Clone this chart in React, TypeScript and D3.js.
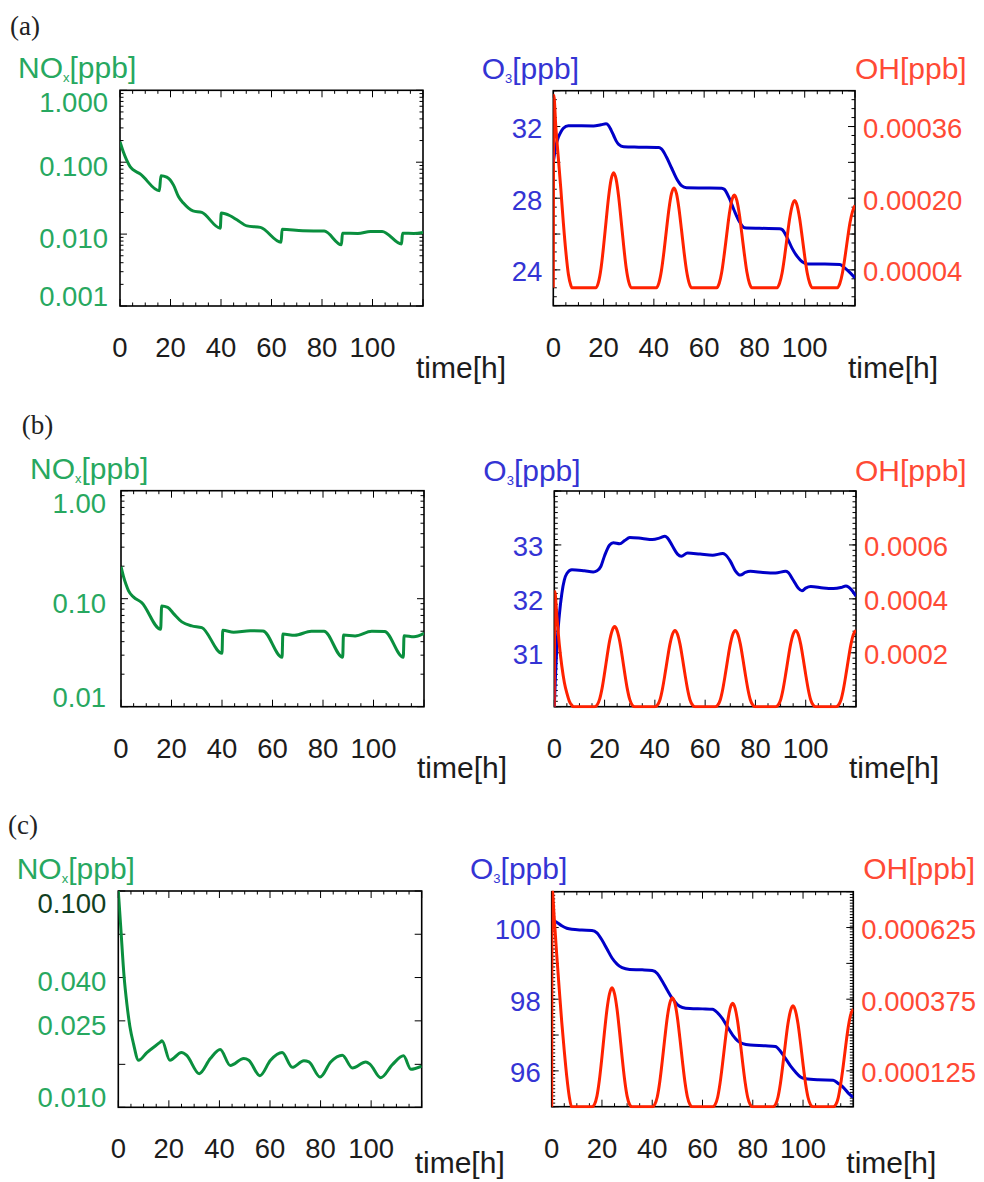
import React from 'react';
import * as d3 from 'd3';

type Pt = [number, number];

// ---- data: [time in h, value] ----
const timeTicks = [0, 20, 40, 60, 80, 100];

const noxA: Pt[] = [
  [0, 0.193], [1.3, 0.14], [2.6, 0.108], [4, 0.087], [5.3, 0.078], [7.9, 0.069], [15.6, 0.04],
  [16.2, 0.065], [18.5, 0.062], [21.2, 0.048], [23.2, 0.033], [25.1, 0.027], [28.9, 0.021],
  [32.4, 0.02], [39.7, 0.0121], [40.1, 0.0196], [43.6, 0.018], [46.3, 0.0158], [50.3, 0.013],
  [55.6, 0.0124], [63.8, 0.0077], [64.2, 0.0117], [72.4, 0.0111], [80.9, 0.011], [87.7, 0.0071],
  [88.1, 0.0103], [94.2, 0.0102], [99.2, 0.0109], [103.8, 0.0109], [111.5, 0.0073],
  [111.9, 0.0103], [116.4, 0.0102], [120, 0.0105],
];

const noxB: Pt[] = [
  [0, 0.198], [1, 0.16], [2, 0.135], [3, 0.118], [4.9, 0.104], [8.2, 0.092], [15.7, 0.052],
  [16.1, 0.0855], [18.5, 0.083], [21, 0.072], [24.1, 0.061], [28, 0.056], [32, 0.054],
  [40, 0.0312], [40.3, 0.051], [44.6, 0.049], [51.2, 0.0506], [56.2, 0.0503], [63.8, 0.0287],
  [64.1, 0.047], [68.8, 0.0458], [75.4, 0.05], [80.4, 0.05], [87.8, 0.0287], [88.1, 0.046],
  [92.7, 0.0452], [99.3, 0.05], [104.4, 0.0497], [111.8, 0.0287], [112.1, 0.0455],
  [116, 0.0445], [120, 0.0478],
];

const noxC: Pt[] = [
  [0, 0.1], [0.95, 0.0684], [2.3, 0.0401], [3.4, 0.03], [4.6, 0.0236], [6, 0.0197], [8, 0.0165],
  [11.3, 0.0179], [16.6, 0.02], [17.3, 0.0203], [20.4, 0.0165], [25, 0.0179], [27, 0.0174],
  [32, 0.0143], [36.4, 0.0168], [40.3, 0.0185], [44.3, 0.0156], [49.6, 0.0168], [51.6, 0.0165],
  [56, 0.014], [60.2, 0.0165], [64.8, 0.0179], [68.8, 0.0153], [73.4, 0.0164], [75.4, 0.0162],
  [79.8, 0.0138], [84, 0.0162], [88.6, 0.0174], [92.6, 0.0152], [97.9, 0.0162], [99.6, 0.0158],
  [103.8, 0.0137], [108.5, 0.0158], [112.8, 0.0173], [115.7, 0.015], [120, 0.0155],
];

const o3A: Pt[] = [
  [0, 30.0], [1, 30.9], [2, 31.4], [3, 31.7], [4, 31.9], [6, 32.05], [10, 32.04], [16, 32.03],
  [19, 32.1], [21, 32.15], [22, 32.05], [23, 31.8], [24, 31.5], [25, 31.2], [26, 31.0],
  [28, 30.87], [34, 30.85], [42, 30.83], [43, 30.75], [45, 30.3], [47, 29.7], [49, 29.1],
  [51, 28.7], [53, 28.58], [60, 28.57], [67, 28.56], [68, 28.5], [70, 28.0], [72, 27.3],
  [74, 26.7], [76, 26.35], [82, 26.32], [90, 26.3], [91, 26.25], [93, 25.8], [95, 25.2],
  [97, 24.75], [99, 24.45], [101, 24.33], [108, 24.33], [114, 24.3], [116, 24.1], [118, 23.85],
  [120, 23.55],
];

const o3B: Pt[] = [
  [0, 30.0], [0.5, 30.6], [1, 31.1], [2, 31.7], [3, 32.1], [4, 32.35], [5, 32.47], [7, 32.54],
  [12, 32.52], [15.5, 32.5], [17, 32.52], [18.5, 32.6], [20, 32.8], [22, 33.0], [23.5, 33.04],
  [26, 33.02], [28, 33.08], [30, 33.14], [35, 33.12], [39, 33.1], [42, 33.13], [44, 33.16],
  [45, 33.13], [47, 32.98], [49, 32.83], [50.5, 32.79], [53, 32.85], [58, 32.83], [63, 32.81],
  [67, 32.84], [68, 32.82], [70, 32.7], [72, 32.52], [74, 32.44], [76, 32.49], [78, 32.51],
  [83, 32.49], [88, 32.48], [92, 32.51], [93, 32.49], [95, 32.35], [97, 32.2], [98.5, 32.15],
  [100, 32.2], [102, 32.23], [107, 32.2], [111, 32.19], [114, 32.21], [116, 32.24],
  [117, 32.22], [118.5, 32.15], [120, 32.05],
];

const o3C: Pt[] = [
  [0, 100.22], [2, 100.15], [4, 100.05], [6, 99.98], [8, 99.95], [12, 99.93], [16, 99.92],
  [18, 99.85], [20, 99.65], [22, 99.4], [24, 99.15], [26, 98.98], [28, 98.88], [31, 98.83],
  [36, 98.82], [40, 98.8], [42, 98.72], [44, 98.5], [46, 98.25], [48, 98.02], [50, 97.85],
  [52, 97.77], [55, 97.74], [60, 97.73], [64, 97.72], [66, 97.62], [68, 97.45], [70, 97.22],
  [72, 97.0], [74, 96.84], [76, 96.76], [79, 96.72], [85, 96.7], [89, 96.68], [91, 96.55],
  [93, 96.35], [95, 96.14], [97, 95.97], [99, 95.83], [101, 95.78], [106, 95.75], [112, 95.74],
  [114, 95.65], [116, 95.54], [118, 95.38], [120, 95.26],
];

const ohA: Pt[] = [
  [0, 0], [0.2, 4.3e-4], [1, 3.6e-4], [2, 2.9e-4], [3, 2.2e-4], [4, 1.45e-4], [5, 8e-5],
  [6, 3e-5], [7, 5e-6], [7.4, 0], [17, 0],
  [18, 1.3e-5], [19, 4.4e-5], [20, 9.3e-5], [21, 1.49e-4], [22, 2.03e-4], [23, 2.42e-4],
  [24, 2.57e-4], [25, 2.42e-4], [26, 2.03e-4], [27, 1.49e-4], [28, 9.3e-5], [29, 4.4e-5],
  [30, 1.3e-5], [31, 0], [41, 0],
  [42, 1.1e-5], [43, 3.8e-5], [44, 8e-5], [45, 1.29e-4], [46, 1.76e-4], [47, 2.1e-4],
  [48, 2.23e-4], [49, 2.1e-4], [50, 1.76e-4], [51, 1.29e-4], [52, 8e-5], [53, 3.8e-5],
  [54, 1.1e-5], [55, 0], [65, 0],
  [66, 1e-5], [67, 3.5e-5], [68, 7.5e-5], [69, 1.2e-4], [70, 1.64e-4], [71, 1.95e-4],
  [72, 2.07e-4], [73, 1.95e-4], [74, 1.64e-4], [75, 1.2e-4], [76, 7.5e-5], [77, 3.5e-5],
  [78, 1e-5], [79, 0], [89, 0],
  [90, 1e-5], [91, 3.3e-5], [92, 7e-5], [93, 1.13e-4], [94, 1.54e-4], [95, 1.83e-4],
  [96, 1.95e-4], [97, 1.83e-4], [98, 1.54e-4], [99, 1.13e-4], [100, 7e-5], [101, 3.3e-5],
  [102, 1e-5], [103, 0], [113, 0],
  [114, 1e-5], [115, 3.3e-5], [116, 6.8e-5], [117, 1.08e-4], [118, 1.45e-4], [119, 1.7e-4],
  [120, 1.84e-4],
];

const ohB: Pt[] = [
  [0, 0], [0.2, 4.27e-4], [1, 3.4e-4], [2, 2.3e-4], [3, 1.5e-4], [4, 9e-5], [5, 5e-5],
  [6, 2e-5], [7, 5e-6], [7.6, 0], [16, 0],
  [17, 6e-6], [18, 2.7e-5], [19, 6.8e-5], [20, 1.25e-4], [21, 1.87e-4], [22, 2.44e-4],
  [23, 2.82e-4], [24, 2.97e-4], [25, 2.82e-4], [26, 2.44e-4], [27, 1.87e-4], [28, 1.25e-4],
  [29, 6.8e-5], [30, 2.7e-5], [31, 6e-6], [32, 0], [40, 0],
  [41, 6e-6], [42, 2.5e-5], [43, 6.5e-5], [44, 1.19e-4], [45, 1.78e-4], [46, 2.32e-4],
  [47, 2.69e-4], [48, 2.83e-4], [49, 2.69e-4], [50, 2.32e-4], [51, 1.78e-4], [52, 1.19e-4],
  [53, 6.5e-5], [54, 2.5e-5], [55, 6e-6], [56, 0], [64, 0],
  [65, 6e-6], [66, 2.5e-5], [67, 6.5e-5], [68, 1.19e-4], [69, 1.78e-4], [70, 2.32e-4],
  [71, 2.69e-4], [72, 2.83e-4], [73, 2.69e-4], [74, 2.32e-4], [75, 1.78e-4], [76, 1.19e-4],
  [77, 6.5e-5], [78, 2.5e-5], [79, 6e-6], [80, 0], [88, 0],
  [89, 6e-6], [90, 2.5e-5], [91, 6.5e-5], [92, 1.19e-4], [93, 1.78e-4], [94, 2.32e-4],
  [95, 2.69e-4], [96, 2.83e-4], [97, 2.69e-4], [98, 2.32e-4], [99, 1.78e-4], [100, 1.19e-4],
  [101, 6.5e-5], [102, 2.5e-5], [103, 6e-6], [104, 0], [112, 0],
  [113, 6e-6], [114, 2.5e-5], [115, 6.5e-5], [116, 1.19e-4], [117, 1.78e-4], [118, 2.32e-4],
  [119, 2.69e-4], [120, 2.83e-4],
];

const ohC: Pt[] = [
  [0, 0], [0.15, 7.6e-4], [1, 6.6e-4], [2, 5.3e-4], [3, 4.1e-4], [4, 2.95e-4], [5, 1.95e-4],
  [6, 1.05e-4], [7, 3.5e-5], [7.9, 0], [16, 0],
  [17, 8e-6], [18, 3.7e-5], [19, 9.5e-5], [20, 1.74e-4], [21, 2.61e-4], [22, 3.4e-4],
  [23, 3.94e-4], [24, 4.15e-4], [25, 3.94e-4], [26, 3.4e-4], [27, 2.61e-4], [28, 1.74e-4],
  [29, 9.5e-5], [30, 3.7e-5], [31, 8e-6], [32, 0], [40, 0],
  [41, 8e-6], [42, 3.4e-5], [43, 8.7e-5], [44, 1.6e-4], [45, 2.39e-4], [46, 3.12e-4],
  [47, 3.61e-4], [48, 3.8e-4], [49, 3.61e-4], [50, 3.12e-4], [51, 2.39e-4], [52, 1.6e-4],
  [53, 8.7e-5], [54, 3.4e-5], [55, 8e-6], [56, 0], [64, 0],
  [65, 7e-6], [66, 3.2e-5], [67, 8.3e-5], [68, 1.52e-4], [69, 2.27e-4], [70, 2.96e-4],
  [71, 3.43e-4], [72, 3.61e-4], [73, 3.43e-4], [74, 2.96e-4], [75, 2.27e-4], [76, 1.52e-4],
  [77, 8.3e-5], [78, 3.2e-5], [79, 7e-6], [80, 0], [88, 0],
  [89, 7e-6], [90, 3.2e-5], [91, 8.1e-5], [92, 1.48e-4], [93, 2.22e-4], [94, 2.89e-4],
  [95, 3.34e-4], [96, 3.52e-4], [97, 3.34e-4], [98, 2.89e-4], [99, 2.22e-4], [100, 1.48e-4],
  [101, 8.1e-5], [102, 3.2e-5], [103, 7e-6], [104, 0], [112, 0],
  [113, 7e-6], [114, 3.1e-5], [115, 8e-5], [116, 1.43e-4], [117, 2.14e-4], [118, 2.78e-4],
  [119, 3.22e-4], [120, 3.4e-4],
];

// tick labels
const noxLabelsA = [[1, '1.000'], [0.1, '0.100'], [0.01, '0.010'], [0.001, '0.001']];
const noxLabelsB = [[1, '1.00'], [0.1, '0.10'], [0.01, '0.01']];
const noxLabelsC = [[0.1, '0.100'], [0.0398, '0.040'], [0.0251, '0.025'], [0.01, '0.010']];
const noxTicksC = [0.1, 0.0631, 0.0398, 0.0251, 0.0158, 0.01];
const o3LabelsA = [[32, '32'], [28, '28'], [24, '24']];
const o3LabelsB = [[33, '33'], [32, '32'], [31, '31']];
const o3LabelsC = [[100, '100'], [98, '98'], [96, '96']];
const ohLabelsA = [[0.00036, '0.00036'], [0.0002, '0.00020'], [0.00004, '0.00004']];
const ohLabelsB = [[0.0006, '0.0006'], [0.0004, '0.0004'], [0.0002, '0.0002']];
const ohLabelsC = [[0.000625, '0.000625'], [0.000375, '0.000375'], [0.000125, '0.000125']];

const SANS = "'Liberation Sans', Arial, Helvetica, sans-serif";
const SERIF = "'Liberation Serif', 'Times New Roman', serif";
const GREEN = '#0a8f3e';
const GREEN_TXT = '#27a860';
const BLUE = '#0000c8';
const BLUE_TXT = '#3434d4';
const RED = '#ff2200';
const RED_TXT = '#ff4a35';
const DARK = '#1c1c1c';
const NUM = 27.5;
const TITLE = 30;

type Box = { x0: number; x1: number; y0: number; y1: number };

const logMinor = (lo: number, hi: number) => {
  const out: number[] = [];
  for (let d = lo; d < hi * 0.999; d *= 10) for (let m = 2; m <= 9; m++) out.push(d * m);
  return out;
};
const stepTicks = (lo: number, hi: number, step: number) =>
  d3.range(Math.round((hi - lo) / step) + 1).map((i) => lo + i * step);

const TimeAxis = ({ box, titleOff }: { box: Box; titleOff: number }) => {
  const x = d3.scaleLinear().domain([0, 120]).range([box.x0, box.x1]);
  const major = stepTicks(0, 120, 20);
  const minor = stepTicks(0, 120, 5).filter((t) => t % 20 !== 0);
  return (
    <g>
      {major.map((t) => (
        <g key={'M' + t} stroke="#000" strokeWidth={1}>
          <line x1={x(t)} x2={x(t)} y1={box.y1} y2={box.y1 - 7} />
          <line x1={x(t)} x2={x(t)} y1={box.y0} y2={box.y0 + 7} />
        </g>
      ))}
      {minor.map((t) => (
        <g key={'m' + t} stroke="#000" strokeWidth={1}>
          <line x1={x(t)} x2={x(t)} y1={box.y1} y2={box.y1 - 3.5} />
          <line x1={x(t)} x2={x(t)} y1={box.y0} y2={box.y0 + 3.5} />
        </g>
      ))}
      {timeTicks.map((t) => (
        <text key={'l' + t} x={x(t)} y={box.y1 + 51} textAnchor="middle" fontSize={NUM} fill={DARK} fontFamily={SANS}>
          {t}
        </text>
      ))}
      <text x={box.x1 - 7} y={box.y1 + titleOff} fontSize={TITLE} fill={DARK} fontFamily={SANS}>
        time[h]
      </text>
    </g>
  );
};

const yTicks = (y: (v: number) => number, vals: number[], xEdge: number, dir: number, len: number, k: string) =>
  vals.map((v) => (
    <line key={k + v} x1={xEdge} x2={xEdge + dir * len} y1={y(v)} y2={y(v)} stroke="#000" strokeWidth={1} />
  ));

const labelY = (ty: number, box: Box, off: number) =>
  Math.min(Math.max(ty + off, box.y0 + 12), box.y1 - 10) + 9.8;

const Title = ({ x, y, main, sub, rest, color, anchor }: any) => (
  <text x={x} y={y} fontSize={TITLE} fill={color} fontFamily={SANS} textAnchor={anchor || 'start'}>
    {main}
    {sub && (
      <tspan fontSize={13} dy={4}>
        {sub}
      </tspan>
    )}
    <tspan dy={sub ? -4 : 0}>{rest}</tspan>
  </text>
);

const Frame = ({ box }: { box: Box }) => (
  <rect x={box.x0} y={box.y0} width={box.x1 - box.x0} height={box.y1 - box.y0} fill="none" stroke="#000" strokeWidth={1.6} />
);

const NoxPanel = ({ id, box, data, domain, major, minor, labels, labelGap, topDark, titleOff }: any) => {
  const x = d3.scaleLinear().domain([0, 120]).range([box.x0, box.x1]);
  const y = d3.scaleLog().domain(domain).range([box.y1, box.y0]);
  const path = d3.line<Pt>().x((d) => x(d[0])).y((d) => y(d[1])).curve(d3.curveMonotoneX)(data) || '';
  return (
    <g>
      <clipPath id={id}>
        <rect x={box.x0} y={box.y0} width={box.x1 - box.x0} height={box.y1 - box.y0} />
      </clipPath>
      {yTicks(y, major, box.x0, 1, 7, 'a')}
      {yTicks(y, major, box.x1, -1, 7, 'b')}
      {yTicks(y, minor, box.x0, 1, 3.5, 'c')}
      {yTicks(y, minor, box.x1, -1, 3.5, 'd')}
      <TimeAxis box={box} titleOff={titleOff} />
      <Frame box={box} />
      <path d={path} fill="none" stroke={GREEN} strokeWidth={3} clipPath={`url(#${id})`} strokeLinejoin="round" />
      {labels.map(([v, s]: any, i: number) => (
        <text
          key={s}
          x={box.x0 - labelGap}
          y={labelY(y(v), box, 4)}
          textAnchor="end"
          fontSize={NUM}
          fill={topDark && i === 0 ? '#123f22' : GREEN_TXT}
          fontFamily={SANS}
        >
          {s}
        </text>
      ))}
    </g>
  );
};

const ChemPanel = ({ id, box, o3, oh, o3Dom, ohDom, o3Major, o3Minor, ohMajor, ohMinor, o3Labels, ohLabels, titleOff }: any) => {
  const x = d3.scaleLinear().domain([0, 120]).range([box.x0, box.x1]);
  const yo = d3.scaleLinear().domain(o3Dom).range([box.y1, box.y0]);
  const yh = d3.scaleLinear().domain(ohDom).range([box.y1, box.y0]);
  const lo = d3.line<Pt>().x((d) => x(d[0])).y((d) => yo(d[1])).curve(d3.curveMonotoneX)(o3) || '';
  const lh = d3.line<Pt>().x((d) => x(d[0])).y((d) => yh(d[1])).curve(d3.curveMonotoneX)(oh) || '';
  return (
    <g>
      <clipPath id={id}>
        <rect x={box.x0} y={box.y0 - 1} width={box.x1 - box.x0} height={box.y1 - box.y0 + 2.5} />
      </clipPath>
      {yTicks(yo, o3Major, box.x0, 1, 7, 'a')}
      {yTicks(yo, o3Minor, box.x0, 1, 3.5, 'b')}
      {yTicks(yh, ohMajor, box.x1, -1, 7, 'c')}
      {yTicks(yh, ohMinor, box.x1, -1, 3.5, 'd')}
      <TimeAxis box={box} titleOff={titleOff} />
      <Frame box={box} />
      <path d={lo} fill="none" stroke={BLUE} strokeWidth={3} clipPath={`url(#${id})`} />
      <path d={lh} fill="none" stroke={RED} strokeWidth={3} clipPath={`url(#${id})`} strokeLinejoin="round" />
      {o3Labels.map(([v, s]: any) => (
        <text key={s} x={box.x0 - 11} y={labelY(yo(v), box, 1.5)} textAnchor="end" fontSize={NUM} fill={BLUE_TXT} fontFamily={SANS}>
          {s}
        </text>
      ))}
      {ohLabels.map(([v, s]: any) => (
        <text key={s} x={box.x1 + 8} y={labelY(yh(v), box, 1.5)} fontSize={NUM} fill={RED_TXT} fontFamily={SANS}>
          {s}
        </text>
      ))}
    </g>
  );
};

const rows = [
  {
    tag: '(a)', tagX: 10, tagY: 35,
    noxTitle: [18, 78], o3Title: [481.7, 79], ohTitle: [966.7, 79],
    left: { id: 'ca1', box: { x0: 120, x1: 423, y0: 90.3, y1: 306 }, data: noxA, domain: [0.001, 1],
      major: [1, 0.1, 0.01, 0.001], minor: logMinor(0.001, 1), labels: noxLabelsA, labelGap: 12, titleOff: 72 },
    right: { id: 'ca2', box: { x0: 553.3, x1: 855, y0: 90.7, y1: 305.7 }, o3: o3A, oh: ohA,
      o3Dom: [22, 34], ohDom: [-0.00004, 0.00044], o3Major: stepTicks(22, 34, 2), o3Minor: stepTicks(22, 34, 0.5),
      ohMajor: stepTicks(-0.00004, 0.00044, 0.00008), ohMinor: stepTicks(-0.00004, 0.00044, 0.00002),
      o3Labels: o3LabelsA, ohLabels: ohLabelsA, titleOff: 72 },
  },
  {
    tag: '(b)', tagX: 21.7, tagY: 434,
    noxTitle: [30, 479], o3Title: [483.3, 481], ohTitle: [966.7, 481],
    left: { id: 'cb1', box: { x0: 121, x1: 424, y0: 490.7, y1: 706.7 }, data: noxB, domain: [0.01, 1],
      major: [1, 0.1, 0.01], minor: logMinor(0.01, 1), labels: noxLabelsB, labelGap: 15, titleOff: 71 },
    right: { id: 'cb2', box: { x0: 554.3, x1: 856, y0: 491, y1: 706.7 }, o3: o3B, oh: ohB,
      o3Dom: [30, 34], ohDom: [0, 0.0008], o3Major: stepTicks(30, 34, 1), o3Minor: stepTicks(30, 34, 0.1),
      ohMajor: stepTicks(0, 0.0008, 0.0002), ohMinor: stepTicks(0, 0.0008, 0.00002),
      o3Labels: o3LabelsB, ohLabels: ohLabelsB, titleOff: 71 },
  },
  {
    tag: '(c)', tagX: 8, tagY: 834,
    noxTitle: [16.7, 879], o3Title: [470, 879], ohTitle: [975, 879],
    left: { id: 'cc1', box: { x0: 118.3, x1: 421.7, y0: 891, y1: 1107.3 }, data: noxC, domain: [0.01, 0.1],
      major: noxTicksC, minor: [], labels: noxLabelsC, labelGap: 12, topDark: true, titleOff: 66 },
    right: { id: 'cc2', box: { x0: 551.7, x1: 853.3, y0: 891.7, y1: 1106.7 }, o3: o3C, oh: ohC,
      o3Dom: [95, 101], ohDom: [0, 0.00075], o3Major: stepTicks(95, 101, 1), o3Minor: stepTicks(95, 101, 0.1),
      ohMajor: stepTicks(0, 0.00075, 0.000125), ohMinor: stepTicks(0, 0.00075, 0.00001),
      o3Labels: o3LabelsC, ohLabels: ohLabelsC, titleOff: 66 },
  },
];

export default function App() {
  return (
    <svg width={984} height={1182} style={{ position: 'absolute', left: 0, top: 0, background: '#fff' }}>
      <rect width={984} height={1182} fill="#fff" />
      {rows.map((r) => (
        <g key={r.tag}>
          <text x={r.tagX} y={r.tagY} fontSize={27} fontFamily={SERIF} fill="#222">
            {r.tag}
          </text>
          <Title x={r.noxTitle[0]} y={r.noxTitle[1]} main="NO" sub="x" rest="[ppb]" color={GREEN_TXT} />
          <Title x={r.o3Title[0]} y={r.o3Title[1]} main="O" sub="3" rest="[ppb]" color={BLUE_TXT} />
          <Title x={r.ohTitle[0]} y={r.ohTitle[1]} main="OH[ppb]" rest="" color={RED_TXT} anchor="end" />
          <NoxPanel {...r.left} />
          <ChemPanel {...r.right} />
        </g>
      ))}
    </svg>
  );
}
